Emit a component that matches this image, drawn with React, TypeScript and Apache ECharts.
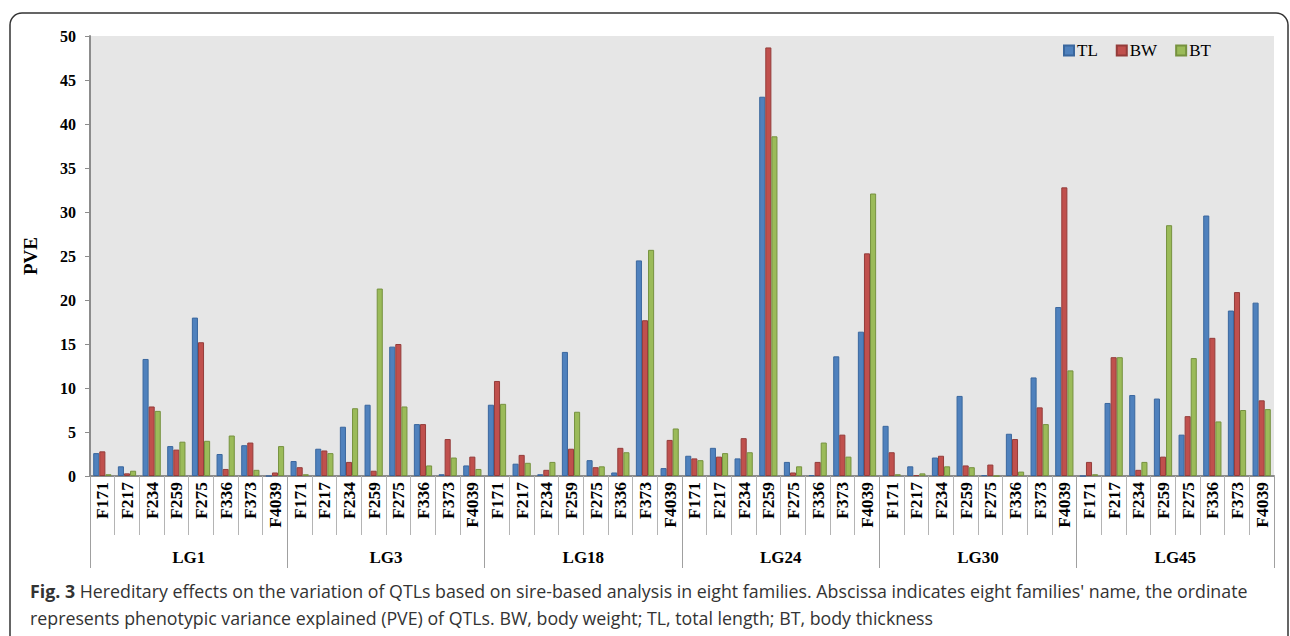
import React, { useEffect, useRef } from "react";
import * as echarts from "echarts";

const groups = ["LG1", "LG3", "LG18", "LG24", "LG30", "LG45"];
const families = ["F171", "F217", "F234", "F259", "F275", "F336", "F373", "F4039"];

const TL = [
  2.6, 1.1, 13.3, 3.4, 18.0, 2.5, 3.5, 0,
  1.7, 3.1, 5.6, 8.1, 14.7, 5.9, 0.2, 1.2,
  8.1, 1.4, 0.2, 14.1, 1.8, 0.4, 24.5, 0.9,
  2.3, 3.2, 2.0, 43.1, 1.6, 0.1, 13.6, 16.4,
  5.7, 1.1, 2.1, 9.1, 0.1, 4.8, 11.2, 19.2,
  0, 8.3, 9.2, 8.8, 4.7, 29.6, 18.8, 19.7,
];
const BW = [
  2.8, 0.3, 7.9, 3.0, 15.2, 0.8, 3.8, 0.4,
  1.0, 2.9, 1.6, 0.6, 15.0, 5.9, 4.2, 2.2,
  10.8, 2.4, 0.7, 3.1, 1.0, 3.2, 17.7, 4.1,
  2.0, 2.2, 4.3, 48.7, 0.4, 1.6, 4.7, 25.3,
  2.7, 0.1, 2.3, 1.2, 1.3, 4.2, 7.8, 32.8,
  1.6, 13.5, 0.7, 2.2, 6.8, 15.7, 20.9, 8.6,
];
const BT = [
  0.2, 0.6, 7.4, 3.9, 4.0, 4.6, 0.7, 3.4,
  0.2, 2.6, 7.7, 21.3, 7.9, 1.2, 2.1, 0.8,
  8.2, 1.5, 1.6, 7.3, 1.1, 2.7, 25.7, 5.4,
  1.8, 2.6, 2.7, 38.6, 1.1, 3.8, 2.2, 32.1,
  0.2, 0.3, 1.1, 1.0, 0, 0.5, 5.9, 12.0,
  0.2, 13.5, 1.6, 28.5, 13.4, 6.2, 7.5, 7.6,
];
const yTicks = { min: 0, max: 50, interval: 5 };
const seriesNames = ["TL", "BW", "BT"];
const colors = ["#4F81BD", "#C0504D", "#9BBB59"];
const borders = ["#3A679E", "#943C3A", "#76923F"];

const caption1 = "Hereditary effects on the variation of QTLs based on sire-based analysis in eight families. Abscissa indicates eight families' name, the ordinate";
const caption2 = "represents phenotypic variance explained (PVE) of QTLs. BW, body weight; TL, total length; BT, body thickness";

export default function App() {
  const ref = useRef<HTMLDivElement>(null);
  useEffect(() => {
    if (!ref.current) return;
    const chart = echarts.init(ref.current, null, { renderer: "svg" });
    const cats: string[] = [];
    groups.forEach((g) => families.forEach((f) => cats.push(g + "|" + f)));
    const serif = "'Liberation Serif', 'Times New Roman', serif";
    const dataSets = [TL, BW, BT];
    const capFont = "17.8px 'Open Sans', sans-serif";
    chart.setOption({
      animation: false,
      backgroundColor: "#ffffff",
      grid: {
        left: 90,
        right: 16,
        top: 36,
        bottom: 160,
        show: true,
        backgroundColor: "#e6e6e6",
        borderWidth: 0,
      },
      legend: {
        left: 1058,
        top: 37,
        itemWidth: 10,
        itemHeight: 10,
        itemGap: 18,
        icon: "rect",
        data: seriesNames,
        textStyle: { fontFamily: serif, fontSize: 17, color: "#000", padding: [0, 0, 0, -2] },
      },
      xAxis: [
        {
          type: "category",
          data: cats,
          position: "bottom",
          axisLine: { show: true, lineStyle: { color: "#8c8c8c", width: 2 } },
          axisTick: { show: true, interval: 0, length: 59, lineStyle: { color: "#b4b4b4" } },
          axisLabel: {
            interval: 0,
            rotate: 90,
            margin: 6,
            fontFamily: serif,
            fontWeight: "bold",
            fontSize: 17.5,
            color: "#000",
            formatter: (v: string) => v.split("|")[1],
          },
        },
        {
          type: "category",
          data: groups,
          position: "bottom",
          offset: 0,
          axisLine: { show: false },
          axisTick: { show: true, interval: 0, length: 92, lineStyle: { color: "#a0a0a0" } },
          axisLabel: {
            interval: 0,
            margin: 73,
            fontFamily: serif,
            fontWeight: "bold",
            fontSize: 17,
            color: "#000",
          },
        },
      ],
      yAxis: {
        type: "value",
        min: yTicks.min,
        max: yTicks.max,
        interval: yTicks.interval,
        name: "PVE",
        nameLocation: "middle",
        nameRotate: 90,
        nameGap: 50,
        nameTextStyle: { fontFamily: serif, fontWeight: "bold", fontSize: 19, color: "#000" },
        axisLine: { show: true, lineStyle: { color: "#8c8c8c", width: 2 } },
        axisTick: { show: true, length: 5, lineStyle: { color: "#8c8c8c" } },
        splitLine: { show: false },
        axisLabel: { margin: 14, fontFamily: serif, fontWeight: "bold", fontSize: 16, color: "#000" },
      },
      series: seriesNames.map((n, i) => ({
        name: n,
        type: "bar",
        xAxisIndex: 0,
        data: dataSets[i],
        barGap: "0%",
        barCategoryGap: "26%",
        itemStyle: { color: colors[i], borderColor: borders[i], borderWidth: 1 },
      })),
      graphic: [
        {
          type: "rect",
          shape: { x: 10, y: 13, width: 1278, height: 700, r: [12, 12, 0, 0] },
          style: { fill: "none", stroke: "#333333", lineWidth: 1.5 },
          silent: true,
        },
        {
          type: "text",
          x: 30,
          y: 582,
          style: {
            text: "{b|Fig. 3} " + caption1,
            font: capFont,
            fill: "#333333",
            rich: {
              b: { font: "bold 17.8px 'Open Sans', sans-serif", fill: "#333333" },
            },
          },
        },
        {
          type: "text",
          x: 30,
          y: 609,
          style: {
            text: caption2,
            font: capFont,
            fill: "#333333",
          },
        },
      ],
    });
    return () => chart.dispose();
  }, []);
  return <div ref={ref} style={{ position: "fixed", left: 0, top: 0, width: 1290, height: 636 }} />;
}
